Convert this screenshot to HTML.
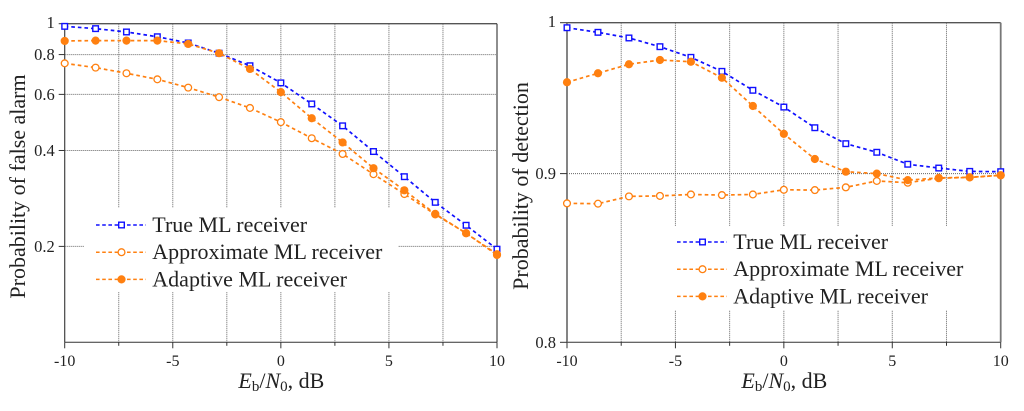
<!DOCTYPE html>
<html>
<head>
<meta charset="utf-8">
<title>ML receiver charts</title>
<style>
html,body{margin:0;padding:0;background:#fff;width:1024px;height:411px;overflow:hidden}
svg{display:block}
text{font-family:"Liberation Serif",serif;fill:#222}
</style>
</head>
<body>
<svg id="chart" xmlns="http://www.w3.org/2000/svg" width="1024" height="411" viewBox="0 0 1024 411"></svg>
<script>
const snrDb = [-10,-8.571,-7.143,-5.714,-4.286,-2.857,-1.429,0,1.429,2.857,4.286,5.714,7.143,8.571,10];
const xTickValues = [-10,-5,0,5,10];
const xMinorTickValues = [-7.5,-2.5,2.5,7.5];
const falseAlarmTicks = [1,0.8,0.6,0.4,0.2];
const detectionTicks = [1,0.9,0.8];
const legendLabels = ['True ML receiver','Approximate ML receiver','Adaptive ML receiver'];

const falseAlarmTrue = [0.981,0.965,0.942,0.910,0.870,0.808,0.738,0.652,0.560,0.478,0.397,0.331,0.275,0.233,0.196];
const falseAlarmApprox = [0.751,0.728,0.699,0.669,0.630,0.588,0.544,0.491,0.437,0.390,0.337,0.292,0.252,0.220,0.189];
const falseAlarmAdaptive = [0.883,0.885,0.885,0.885,0.864,0.808,0.721,0.610,0.505,0.424,0.352,0.300,0.253,0.220,0.188];

const detectionTrue = [0.9965,0.9933,0.9894,0.9834,0.9761,0.9666,0.9539,0.9428,0.9293,0.9190,0.9135,0.9059,0.9035,0.9014,0.9012];
const detectionApprox = [0.8815,0.8813,0.8858,0.8861,0.8870,0.8866,0.8870,0.8899,0.8897,0.8914,0.8954,0.8943,0.8971,0.8976,0.8989];
const detectionAdaptive = [0.9593,0.9653,0.9714,0.9743,0.9731,0.9623,0.9435,0.9253,0.9092,0.9012,0.9000,0.8959,0.8973,0.8977,0.8990];

const NS = 'http://www.w3.org/2000/svg';
const root = document.getElementById('chart');
const BLUE = '#1010ff';
const ORANGE = '#ff8010';

function make(tag, attrs, parent){
  const el = document.createElementNS(NS, tag);
  for (const k in attrs) el.setAttribute(k, attrs[k]);
  parent.appendChild(el);
  return el;
}

function drawMarker(g, kind, cx, cy, color){
  let m;
  if (kind === 'square'){
    m = make('rect', {x:cx-2.8, y:cy-2.8, width:5.6, height:5.6, fill:'#fff', stroke:color, 'stroke-width':1.4}, g);
  } else if (kind === 'open'){
    m = make('circle', {cx:cx, cy:cy, r:3.4, fill:'#fff', stroke:color, 'stroke-width':1.3}, g);
  } else {
    m = make('circle', {cx:cx, cy:cy, r:4.1, fill:color}, g);
  }
  
  
}

function drawPanel(p){
  const panel = make('g', {}, root);
  
  

  const xScale = v => p.left + (v - (-10)) / 20 * (p.right - p.left);
  const yScale = v => p.top + (Math.log10(p.yMax) - Math.log10(v)) /
    (Math.log10(p.yMax) - Math.log10(p.yMin)) * (p.bottom - p.top);

  // grid
  const grid = make('g', {stroke:'#666', 'stroke-width':1, 'stroke-dasharray':'1 1', fill:'none'}, panel);
  
  
  [-7.5,-5,-2.5,0,2.5,5,7.5].forEach(v => {
    make('line', {x1:xScale(v), x2:xScale(v), y1:p.top, y2:p.bottom}, grid);
  });
  p.yTicks.forEach(v => {
    if (v === p.yMax || v === p.yMin) return;
    make('line', {x1:p.left, x2:p.right, y1:yScale(v), y2:yScale(v)}, grid);
  });

  // legend mask
  const mask = make('rect', {x:p.legend.x, y:p.legend.y, width:p.legend.w, height:p.legend.h, fill:'#fff'}, panel);
  
  

  // axes frame
  const frame = make('g', {fill:'none'}, panel);
  
  
  make('line', {x1:p.left, x2:p.right, y1:p.top, y2:p.top, stroke:'#555', 'stroke-width':1.4}, frame);
  make('line', {x1:p.left, x2:p.right, y1:p.bottom, y2:p.bottom, stroke:'#333', 'stroke-width':1}, frame);
  make('line', {x1:p.left, x2:p.left, y1:p.top, y2:p.bottom, stroke:p.sideColor, 'stroke-width':p.sideWidth}, frame);
  make('line', {x1:p.right, x2:p.right, y1:p.top, y2:p.bottom, stroke:p.sideColor, 'stroke-width':p.sideWidth}, frame);

  // x ticks
  xTickValues.forEach(v => {
    make('line', {x1:xScale(v), x2:xScale(v), y1:p.bottom, y2:p.bottom+6, stroke:'#333', 'stroke-width':1}, frame);
    const t = make('text', {x:xScale(v), y:366, 'font-size':16, 'text-anchor':'middle'}, panel);
    t.textContent = String(v);
    
    
  });
  xMinorTickValues.forEach(v => {
    make('line', {x1:xScale(v), x2:xScale(v), y1:p.bottom, y2:p.bottom+3.5, stroke:'#333', 'stroke-width':1}, frame);
  });

  // y ticks
  p.yTicks.forEach(v => {
    make('line', {x1:p.left-p.tickLen, x2:p.left, y1:yScale(v), y2:yScale(v), stroke:'#333', 'stroke-width':1}, frame);
    const t = make('text', {x:p.left-p.tickLen-4, y:yScale(v)+ (v === p.yMax ? 4.5 : 5.5), 'font-size':16.5, 'text-anchor':'end'}, panel);
    t.textContent = String(v);
    
    
  });

  // axis titles
  const yt = make('text', {x:0, y:0, 'font-size':p.yTitleSize, 'text-anchor':'middle',
    transform:'translate(' + p.yTitleX + ',' + p.yTitleY + ') rotate(-90)'}, panel);
  yt.textContent = p.yTitle;
  
  

  const xt = make('text', {x:(p.left+p.right)/2 + 0.5, y:388, 'font-size':22, 'text-anchor':'middle'}, panel);
  
  
  const s1 = make('tspan', {'font-style':'italic'}, xt); s1.textContent = 'E';
  const s2 = make('tspan', {'font-size':15, dy:3}, xt); s2.textContent = 'b';
  const s3 = make('tspan', {dy:-3}, xt); s3.textContent = '/';
  const s4 = make('tspan', {'font-style':'italic'}, xt); s4.textContent = 'N';
  const s5 = make('tspan', {'font-size':15, dy:3}, xt); s5.textContent = '0';
  const s6 = make('tspan', {dy:-3}, xt); s6.textContent = ', dB';

  // series
  p.series.forEach(s => {
    const g = make('g', {}, panel);
    
    
    const pts = s.values.map((v,i) => xScale(snrDb[i]).toFixed(2) + ',' + yScale(v).toFixed(2)).join(' ');
    make('polyline', {points:pts, fill:'none', stroke:s.color, 'stroke-width':1.7, 'stroke-dasharray':'3.6 3'}, g);
    s.values.forEach((v,i) => drawMarker(g, s.marker, xScale(snrDb[i]), yScale(v), s.color));
  });

  // legend
  const lg = make('g', {}, panel);
  
  
  p.series.forEach((s,i) => {
    const y = p.legend.rowY + i * 27.2;
    const entry = make('g', {}, lg);
    
    
    make('line', {x1:p.legend.lineX, x2:p.legend.lineX+50, y1:y, y2:y, stroke:s.color, 'stroke-width':1.5, 'stroke-dasharray':'3.6 2.6'}, entry);
    drawMarker(entry, s.marker, p.legend.lineX+25.5, y, s.color);
    const t = make('text', {x:p.legend.lineX+56.3, y:y+7, 'font-size':22}, entry);
    t.textContent = legendLabels[i];
  });
}

drawPanel({
  name:'false-alarm-chart', left:64.7, right:497, top:23.7, bottom:342.3,
  yMin:0.1, yMax:1, yTicks:falseAlarmTicks, tickLen:6,
  sideColor:'#444', sideWidth:1.2,
  yTitle:'Probability of false alarm', yTitleX:25, yTitleY:186.5, yTitleSize:22,
  legend:{x:84, y:208, w:314, h:84, lineX:96, rowY:225},
  series:[
    {name:'true-ml-series', values:falseAlarmTrue, color:BLUE, marker:'square'},
    {name:'approximate-ml-series', values:falseAlarmApprox, color:ORANGE, marker:'open'},
    {name:'adaptive-ml-series', values:falseAlarmAdaptive, color:ORANGE, marker:'filled'}
  ]
});

drawPanel({
  name:'detection-chart', left:567, right:1000.7, top:22.7, bottom:342.3,
  yMin:0.8, yMax:1, yTicks:detectionTicks, tickLen:7,
  sideColor:'#777', sideWidth:1.8,
  yTitle:'Probability of detection', yTitleX:528, yTitleY:186, yTitleSize:22,
  legend:{x:640, y:226, w:330, h:84, lineX:677, rowY:242},
  series:[
    {name:'true-ml-series', values:detectionTrue, color:BLUE, marker:'square'},
    {name:'approximate-ml-series', values:detectionApprox, color:ORANGE, marker:'open'},
    {name:'adaptive-ml-series', values:detectionAdaptive, color:ORANGE, marker:'filled'}
  ]
});
</script>
</body>
</html>
